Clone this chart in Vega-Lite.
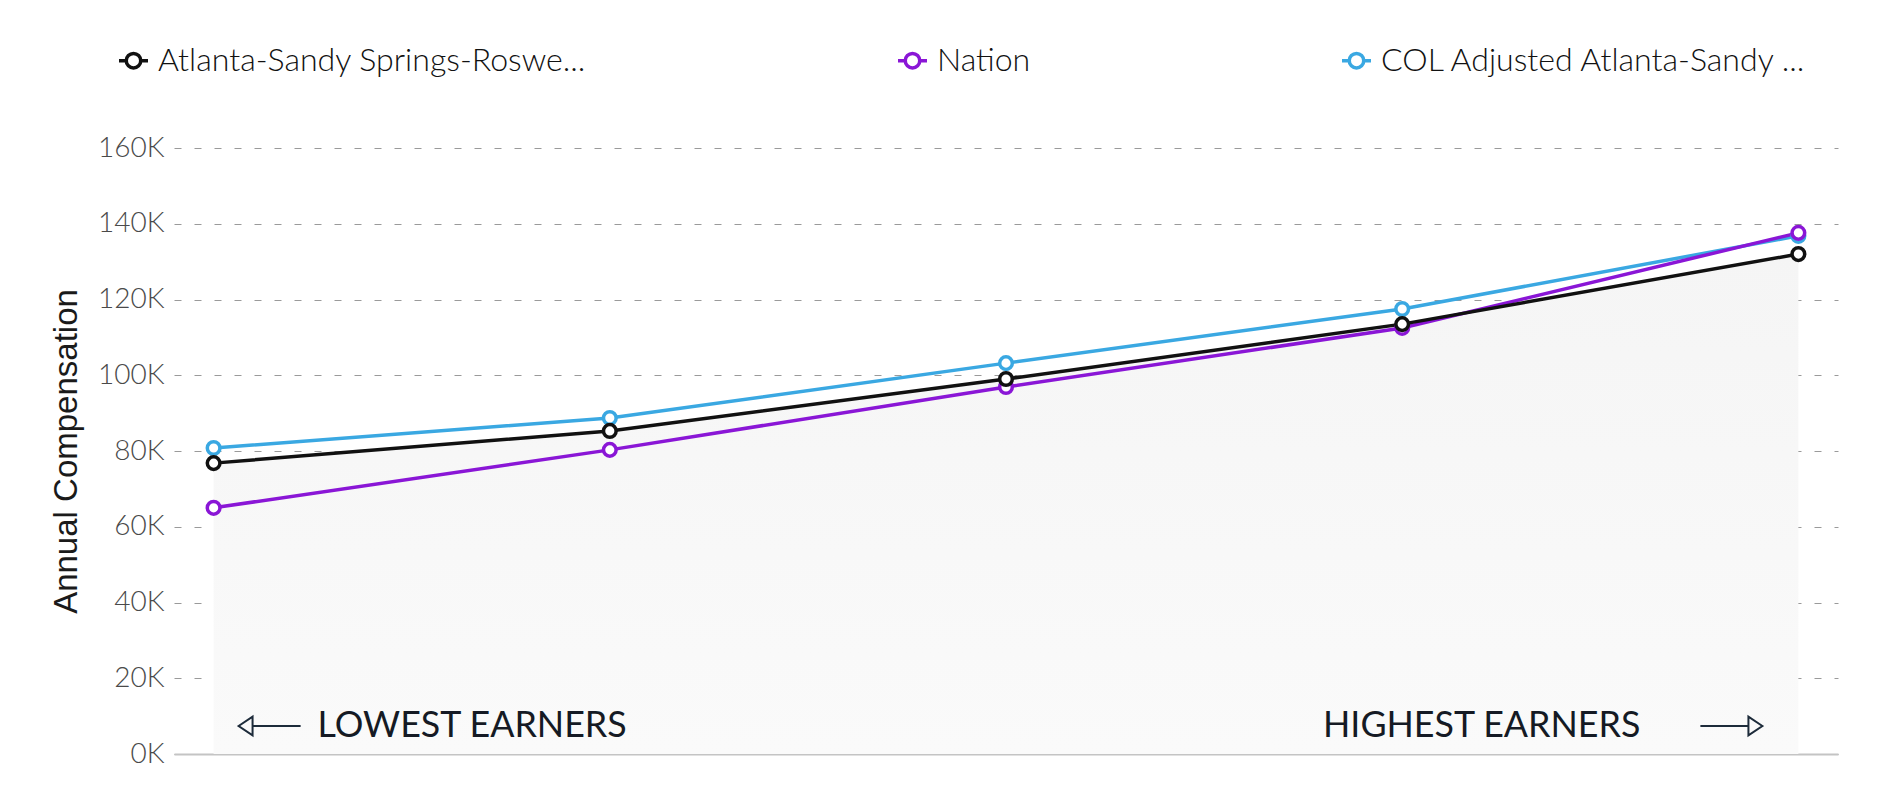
{
  "$schema": "https://vega.github.io/schema/vega-lite/v6.json",
  "width": 1664,
  "height": 606,
  "autosize": {"type": "none"},
  "padding": {"left": 174, "top": 148, "right": 44, "bottom": 46},
  "background": "white",
  "config": {"view": {"stroke": null}, "font": "Lato"},
  "datasets": {
    "series": [
      {"series": "COL Adjusted Atlanta-Sandy Springs-Roswell, GA", "pct": "10th", "value": 80800},
      {"series": "COL Adjusted Atlanta-Sandy Springs-Roswell, GA", "pct": "25th", "value": 88700},
      {"series": "COL Adjusted Atlanta-Sandy Springs-Roswell, GA", "pct": "50th", "value": 103200},
      {"series": "COL Adjusted Atlanta-Sandy Springs-Roswell, GA", "pct": "75th", "value": 117500},
      {"series": "COL Adjusted Atlanta-Sandy Springs-Roswell, GA", "pct": "90th", "value": 136800},
      {"series": "Nation", "pct": "10th", "value": 65000},
      {"series": "Nation", "pct": "25th", "value": 80300},
      {"series": "Nation", "pct": "50th", "value": 96900},
      {"series": "Nation", "pct": "75th", "value": 112500},
      {"series": "Nation", "pct": "90th", "value": 137600},
      {"series": "Atlanta-Sandy Springs-Roswell, GA", "pct": "10th", "value": 76800},
      {"series": "Atlanta-Sandy Springs-Roswell, GA", "pct": "25th", "value": 85300},
      {"series": "Atlanta-Sandy Springs-Roswell, GA", "pct": "50th", "value": 99000},
      {"series": "Atlanta-Sandy Springs-Roswell, GA", "pct": "75th", "value": 113500},
      {"series": "Atlanta-Sandy Springs-Roswell, GA", "pct": "90th", "value": 132000}
    ],
    "notes": [
      {"pct": "10th", "value": 7400, "label": "LOWEST EARNERS", "side": "left"},
      {"pct": "90th", "value": 7400, "label": "HIGHEST EARNERS", "side": "right"}
    ]
  },
  "layer": [
    {
      "data": {"name": "series"},
      "transform": [{"filter": "datum.series == 'Atlanta-Sandy Springs-Roswell, GA'"}],
      "mark": {
        "type": "area",
        "fill": {"gradient": "linear", "x1": 0, "y1": 0, "x2": 0, "y2": 1,
          "stops": [{"offset": 0, "color": "#f5f5f5"}, {"offset": 1, "color": "#fafafa"}]}
      },
      "encoding": {
        "x": {"field": "pct", "type": "ordinal", "sort": ["10th", "25th", "50th", "75th", "90th"],
          "scale": {"type": "point", "padding": 0.1},
          "axis": {"title": null, "labels": false, "ticks": false, "grid": false, "domain": true, "domainColor": "#c4c4c4", "domainWidth": 2}},
        "y": {"field": "value", "type": "quantitative",
          "scale": {"domain": [0, 160000], "nice": false},
          "axis": {
            "title": "Annual Compensation",
            "values": [0, 20000, 40000, 60000, 80000, 100000, 120000, 140000, 160000],
            "labelExpr": "datum.value / 1000 + 'K'",
            "grid": true, "gridDash": [7, 13], "gridColor": "#9a9a9a", "gridWidth": 1,
            "domain": false, "ticks": false,
            "labelFont": "Lato", "labelFontWeight": 300, "labelFontSize": 28, "labelColor": "#4a4a4a", "labelPadding": 10,
            "titleFont": "Liberation Sans", "titleFontSize": 33, "titleFontWeight": "normal", "titleColor": "#1a1a1a",
            "titleX": -108, "titleY": 303, "titleAngle": -90, "titleAlign": "center", "titleBaseline": "middle"
          }}
      }
    },
    {
      "data": {"name": "series"},
      "mark": {"type": "line", "strokeWidth": 3.5},
      "encoding": {
        "x": {"field": "pct", "type": "ordinal", "sort": ["10th", "25th", "50th", "75th", "90th"]},
        "y": {"field": "value", "type": "quantitative"},
        "color": {
          "field": "series", "type": "nominal",
          "scale": {
            "domain": ["Atlanta-Sandy Springs-Roswell, GA", "Nation", "COL Adjusted Atlanta-Sandy Springs-Roswell, GA"],
            "range": ["#111111", "#8a16d6", "#3aa8e2"]
          },
          "legend": {
            "orient": "none", "legendX": -57, "legendY": -104, "direction": "horizontal", "title": null,
            "labelFont": "Lato", "labelFontSize": 32.1, "labelFontWeight": 300, "labelColor": "#111111", "labelOffset": 8,
            "symbolType": "M-1,0L-0.5,0M0.5,0L1,0M-0.5,0A0.5,0.5,0,1,1,0.5,0A0.5,0.5,0,1,1,-0.5,0",
            "symbolSize": 841, "symbolStrokeWidth": 3.5, "symbolFillColor": "white",
            "columnPadding": 304, "labelLimit": 700,
            "labelExpr": "datum.label == 'Atlanta-Sandy Springs-Roswell, GA' ? 'Atlanta-Sandy Springs-Roswe...' : datum.label == 'Nation' ? 'Nation' : 'COL Adjusted Atlanta-Sandy ...'"
          }
        }
      }
    },
    {
      "data": {"name": "series"},
      "mark": {"type": "point", "shape": "circle", "filled": false, "fill": "white", "strokeWidth": 3.5, "size": 160, "opacity": 1},
      "encoding": {
        "x": {"field": "pct", "type": "ordinal", "sort": ["10th", "25th", "50th", "75th", "90th"]},
        "y": {"field": "value", "type": "quantitative"},
        "color": {"field": "series", "type": "nominal"}
      }
    },
    {
      "data": {"name": "notes"},
      "transform": [{"filter": "datum.side == 'left'"}],
      "mark": {"type": "text", "align": "left", "baseline": "middle", "dx": 104, "font": "Lato", "fontSize": 35.8, "fontWeight": "normal", "color": "#151a24"},
      "encoding": {
        "x": {"field": "pct", "type": "ordinal"},
        "y": {"field": "value", "type": "quantitative"},
        "text": {"field": "label"}
      }
    },
    {
      "data": {"name": "notes"},
      "transform": [{"filter": "datum.side == 'right'"}],
      "mark": {"type": "text", "align": "right", "baseline": "middle", "dx": -158, "font": "Lato", "fontSize": 35.8, "fontWeight": "normal", "color": "#151a24"},
      "encoding": {
        "x": {"field": "pct", "type": "ordinal"},
        "y": {"field": "value", "type": "quantitative"},
        "text": {"field": "label"}
      }
    },
    {
      "data": {"name": "notes"},
      "transform": [{"filter": "datum.side == 'left'"}],
      "mark": {"type": "point", "filled": false, "stroke": "#1d2b3a", "strokeWidth": 2, "opacity": 1, "size": 3844, "xOffset": 56,
        "shape": "M-1,0L-0.55,-0.3L-0.55,0.3Z M-0.55,0L1,0"},
      "encoding": {
        "x": {"field": "pct", "type": "ordinal"},
        "y": {"field": "value", "type": "quantitative"}
      }
    },
    {
      "data": {"name": "notes"},
      "transform": [{"filter": "datum.side == 'right'"}],
      "mark": {"type": "point", "filled": false, "stroke": "#1d2b3a", "strokeWidth": 2, "opacity": 1, "size": 3844, "xOffset": -67,
        "shape": "M1,0L0.55,-0.3L0.55,0.3Z M0.55,0L-1,0"},
      "encoding": {
        "x": {"field": "pct", "type": "ordinal"},
        "y": {"field": "value", "type": "quantitative"}
      }
    }
  ]
}
